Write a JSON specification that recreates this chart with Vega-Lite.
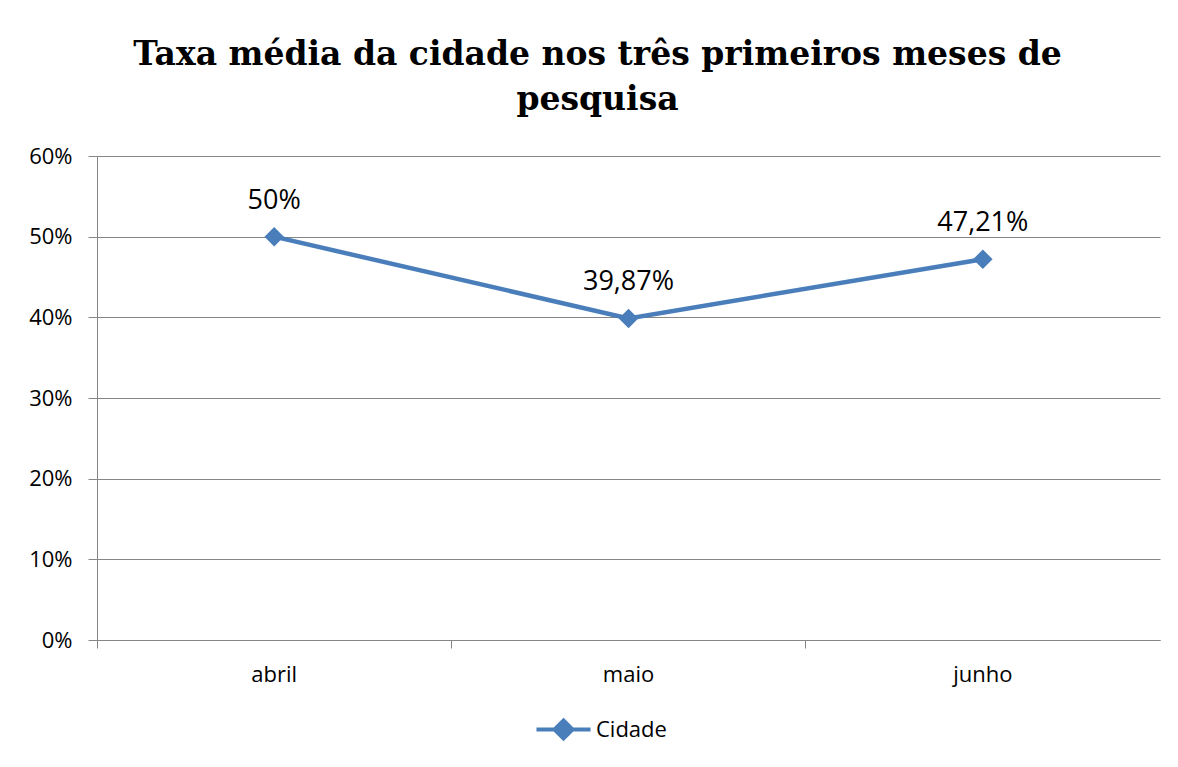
{
  "$schema": "https://vega.github.io/schema/vega-lite/v6.json",
  "width": 1063,
  "height": 484,
  "autosize": {"type": "none"},
  "padding": {"left": 97, "top": 156, "right": 18, "bottom": 127},
  "background": "white",
  "title": {
    "text": ["Taxa média da cidade nos três primeiros meses de", "pesquisa"],
    "font": "DejaVu Serif",
    "fontSize": 33,
    "fontWeight": "bold",
    "color": "#000000",
    "anchor": "middle",
    "frame": "group",
    "dx": -31,
    "offset": 28,
    "lineHeight": 45
  },
  "data": {
    "values": [
      {"mes": "abril", "taxa": 0.50, "rotulo": "50%"},
      {"mes": "maio", "taxa": 0.3987, "rotulo": "39,87%"},
      {"mes": "junho", "taxa": 0.4721, "rotulo": "47,21%"}
    ]
  },
  "encoding": {
    "x": {
      "field": "mes",
      "type": "ordinal",
      "sort": ["abril", "maio", "junho"],
      "scale": {"type": "band", "paddingInner": 0, "paddingOuter": 0},
      "axis": {
        "title": null,
        "labelAngle": 0,
        "bandPosition": 0,
        "labelFont": "Open Sans",
        "labelFontSize": 22,
        "labelColor": "#000000",
        "labelPadding": 16,
        "tickSize": 8,
        "tickColor": "#868686",
        "domainColor": "#868686",
        "grid": false
      }
    },
    "y": {
      "field": "taxa",
      "type": "quantitative",
      "scale": {"domain": [0, 0.6]},
      "axis": {
        "title": null,
        "format": ".0%",
        "values": [0, 0.1, 0.2, 0.3, 0.4, 0.5, 0.6],
        "labelFont": "Open Sans",
        "labelFontSize": 22,
        "labelColor": "#000000",
        "labelPadding": 16,
        "tickSize": 9,
        "tickColor": "#868686",
        "domainColor": "#868686",
        "gridColor": "#868686",
        "gridOpacity": 1,
        "grid": true
      }
    }
  },
  "layer": [
    {
      "mark": {"type": "line", "strokeWidth": 4.5, "point": {"shape": "diamond", "size": 380, "filled": true, "opacity": 1}},
      "encoding": {
        "color": {
          "datum": "Cidade",
          "type": "nominal",
          "scale": {"range": ["#4A7EBB"]},
          "legend": {
            "title": null,
            "orient": "none",
            "legendX": 446,
            "legendY": 553,
            "labelFont": "Open Sans",
            "labelFontSize": 22,
            "labelColor": "#000000",
            "symbolType": "M-1.5,0L1.5,0M0,-0.5L0.5,0L0,0.5L-0.5,0Z",
            "symbolSize": 1300,
            "symbolStrokeWidth": 4,
            "symbolFillColor": "#4A7EBB",
            "symbolStrokeColor": "#4A7EBB",
            "labelOffset": 12
          }
        }
      }
    },
    {
      "mark": {"type": "text", "font": "Open Sans", "fontSize": 27, "color": "#000000", "baseline": "alphabetic", "dy": -28},
      "encoding": {"text": {"field": "rotulo"}}
    }
  ],
  "config": {
    "view": {"stroke": null}
  }
}
